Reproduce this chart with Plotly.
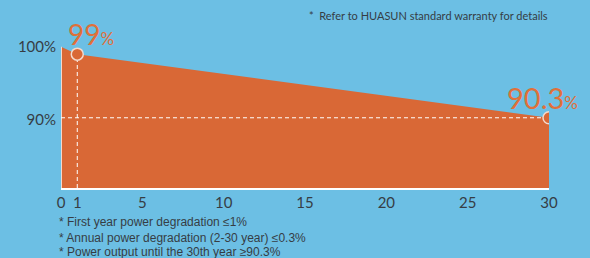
import plotly.graph_objects as go

years = [0, 1, 30]
power = [100, 99, 90.3]
x_tickvals = [0, 1, 5, 10, 15, 20, 25, 30]
x_ticktext = ["0", "1", "5", "10", "15", "20", "25", "30"]
y_tickvals = [90, 100]
y_ticktext = ["90%", "100%"]
notes = [
    "* First year power degradation \u22641%",
    "* Annual power degradation (2-30 year) \u22640.3%",
    "* Power output until the 30th year \u226590.3%",
]
top_note = "*  Refer to HUASUN standard warranty for details"

BG = "#6cbfe4"
ORANGE = "#d96836"
LABEL_OR = "#e0703a"
DARK = "#363d44"
YMIN, YMAX = 80.7, 106.4

fig = go.Figure()
# filled area
fig.add_trace(go.Scatter(x=years, y=power, mode="lines", fill="tozeroy",
                         fillcolor=ORANGE, line=dict(color=ORANGE, width=0),
                         hoverinfo="skip", showlegend=False))
# left white edge
fig.add_trace(go.Scatter(x=[years[0], years[0]], y=[YMIN, power[0]], mode="lines",
                         line=dict(color="white", width=1.5), showlegend=False, hoverinfo="skip"))
# dashed guides
fig.add_trace(go.Scatter(x=[years[1], years[1]], y=[YMIN, power[1]], mode="lines",
                         line=dict(color="white", width=1, dash="4px,3px"), showlegend=False, hoverinfo="skip"))
fig.add_trace(go.Scatter(x=[years[0], years[-1]], y=[power[-1], power[-1]], mode="lines",
                         line=dict(color="white", width=1, dash="4px,3px"), showlegend=False, hoverinfo="skip"))
# markers
fig.add_trace(go.Scatter(x=[years[1], years[-1]], y=[power[1], power[-1]], mode="markers",
                         marker=dict(size=12, color=ORANGE, line=dict(color="#f3d9cc", width=1.5)),
                         showlegend=False, hoverinfo="skip"))

fig.add_annotation(x=years[1], y=power[1], xref="x", yref="y",
                   text="99<span style='font-size:17px'>%</span>",
                   showarrow=False, xanchor="left", yanchor="bottom",
                   xshift=-11, yshift=1, font=dict(family="Lato", size=28, color=LABEL_OR))
fig.add_annotation(x=years[-1], y=power[-1], xref="x", yref="y",
                   text="90.3<span style='font-size:17px'>%</span>",
                   showarrow=False, xanchor="center", yanchor="bottom",
                   xshift=-7, yshift=1, font=dict(family="Lato", size=29, color=LABEL_OR))

fig.add_annotation(x=0.504, y=0.920, xref="paper", yref="paper", text=top_note,
                   showarrow=False, xanchor="left", yanchor="middle",
                   font=dict(family="Lato", size=11, color=DARK))
for i, (t, yy) in enumerate(zip(notes, [-0.181, -0.266, -0.340])):
    fig.add_annotation(x=-0.008, y=yy, xref="paper", yref="paper", text=t,
                       showarrow=False, xanchor="left", yanchor="middle",
                       font=dict(family="Liberation Sans", size=12, color=DARK))

fig.update_layout(
    width=590, height=258,
    margin=dict(l=61, r=41, t=0, b=70),
    paper_bgcolor=BG, plot_bgcolor=BG,
    xaxis=dict(range=[0, 30], tickvals=x_tickvals, ticktext=x_ticktext,
               showgrid=False, zeroline=False, showline=True, linecolor="white", linewidth=1.5,
               ticks="", tickfont=dict(family="Lato", size=15, color=DARK), fixedrange=True),
    yaxis=dict(range=[YMIN, YMAX], tickvals=y_tickvals, ticktext=y_ticktext,
               showgrid=False, zeroline=False, showline=False, ticklabelstandoff=4,
               ticks="", tickfont=dict(family="Lato", size=15, color=DARK), fixedrange=True),
)

fig.write_html("out.html", config={"displayModeBar": False, "staticPlot": True},
               post_script="document.body.style.margin='0';document.body.style.overflow='hidden';")
